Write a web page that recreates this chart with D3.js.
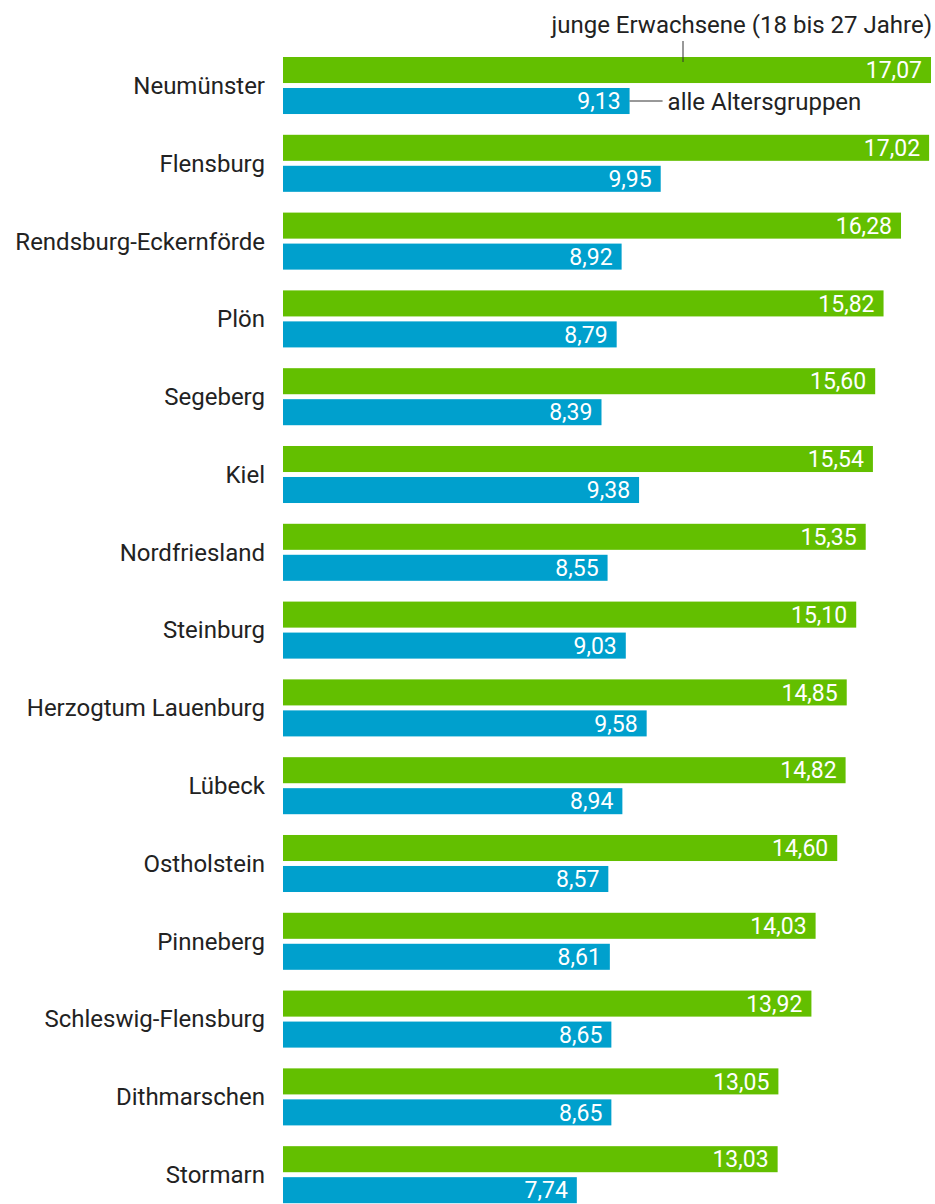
<!DOCTYPE html>
<html><head><meta charset="utf-8">
<script src="https://cdn.jsdelivr.net/npm/d3@7"></script>
<style>body{margin:0;background:#fff}svg{display:block}</style>
</head><body>
<script>
const categories = ["Neumünster","Flensburg","Rendsburg-Eckernförde","Plön","Segeberg","Kiel","Nordfriesland","Steinburg","Herzogtum Lauenburg","Lübeck","Ostholstein","Pinneberg","Schleswig-Flensburg","Dithmarschen","Stormarn"];
const jungeErwachsene = [17.07,17.02,16.28,15.82,15.60,15.54,15.35,15.10,14.85,14.82,14.60,14.03,13.92,13.05,13.03];
const alleAltersgruppen = [9.13,9.95,8.92,8.79,8.39,9.38,8.55,9.03,9.58,8.94,8.57,8.61,8.65,8.65,7.74];
const seriesNames = ["junge Erwachsene (18 bis 27 Jahre)","alle Altersgruppen"];
const seriesKeys = ["jung","alle"];

const W = 935, H = 1204;
const font = "Roboto, sans-serif";
const colors = {jung:"#63bf00", alle:"#00a0cd"};
const svg = d3.select("body").append("svg").attr("width",W).attr("height",H);

const data = categories.map((c,i)=>({cat:c, jung:jungeErwachsene[i], alle:alleAltersgruppen[i]}));

const x = d3.scaleLinear().domain([0,17.07]).range([283,931]);
const y = d3.scaleBand().domain(categories).range([57,1203.2]).paddingInner(0.267).paddingOuter(0);
const ys = d3.scaleBand().domain(seriesKeys).range([0,y.bandwidth()]).paddingInner(0.16).paddingOuter(0);
const fmt = v => d3.format(".2f")(v).replace(".",",");

const g = svg.selectAll("g.cat").data(data).join("g").attr("class","cat")
  .attr("transform",d=>`translate(0,${y(d.cat)})`);

g.append("text").attr("x",265).attr("y",y.bandwidth()/2).attr("dy","0.35em")
  .attr("text-anchor","end").attr("font-family",font).attr("font-size",24).attr("fill","#222")
  .text(d=>d.cat);

seriesKeys.forEach(k=>{
  g.append("rect").attr("x",x(0)).attr("y",ys(k)).attr("width",d=>x(d[k])-x(0)).attr("height",ys.bandwidth())
    .attr("fill",colors[k]);
  g.append("text").attr("x",d=>x(d[k])-9).attr("y",ys(k)+ys.bandwidth()/2).attr("dy","0.36em")
    .attr("text-anchor","end").attr("font-family",font).attr("font-size",23).attr("fill","#fff")
    .text(d=>fmt(d[k]));
});

// annotations
const first = data[0];
const y0 = y(first.cat);
const lx = 683;
svg.append("line").attr("x1",lx).attr("x2",lx).attr("y1",41).attr("y2",y0+5).attr("stroke","#333").attr("stroke-width",1);
svg.append("text").attr("x",932).attr("y",33).attr("text-anchor","end").attr("font-family",font).attr("font-size",24).attr("fill","#222").text(seriesNames[0]);
const by = y0 + ys("alle") + ys.bandwidth()/2;
svg.append("line").attr("x1",x(first.alle)).attr("x2",x(first.alle)+33).attr("y1",by).attr("y2",by).attr("stroke","#333").attr("stroke-width",1);
svg.append("text").attr("x",x(first.alle)+38).attr("y",by).attr("dy","0.36em").attr("font-family",font).attr("font-size",24).attr("fill","#222").text(seriesNames[1]);
</script>
</body></html>
